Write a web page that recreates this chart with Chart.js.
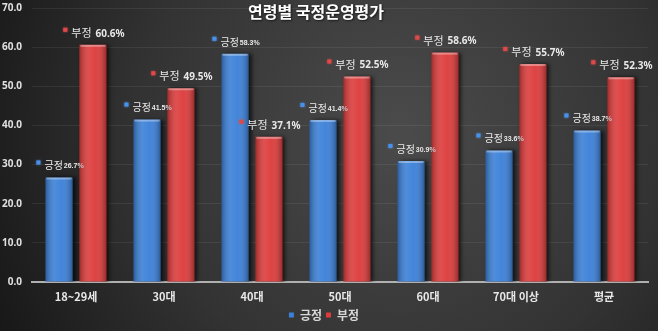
<!DOCTYPE html>
<html>
<head>
<meta charset="utf-8">
<script src="https://cdn.jsdelivr.net/npm/chart.js@4"></script>
<style>
  html, body { margin: 0; padding: 0; background: #2a2a2a; }
  #wrap { width: 658px; height: 331px; position: relative; }
</style>
</head>
<body>
<div id="wrap"><canvas id="myChart" width="658" height="331"></canvas></div>
<script>
const ageGroups = ["18~29세", "30대", "40대", "50대", "60대", "70대 이상", "평균"];
const positive = [26.7, 41.5, 58.3, 41.4, 30.9, 33.6, 38.7]; // 긍정
const negative = [60.6, 49.5, 37.1, 52.5, 58.6, 55.7, 52.3]; // 부정
const yTicks = [0, 10, 20, 30, 40, 50, 60, 70];
const chartTitle = "연령별 국정운영평가";

const KR = '"Noto Sans CJK KR", "Noto Sans", sans-serif';

// dark radial backdrop behind everything
const backdrop = {
  id: "backdrop",
  beforeDraw(chart) {
    const { ctx, width, height } = chart;
    const g = ctx.createRadialGradient(400, 130, 10, 400, 130, 460);
    g.addColorStop(0, "#4a4a4a");
    g.addColorStop(0.55, "#333333");
    g.addColorStop(1, "#161616");
    ctx.save();
    ctx.fillStyle = g;
    ctx.fillRect(0, 0, width, height);
    ctx.restore();
  },
};

// soft drop shadow under the bars
const barShadow = {
  id: "barShadow",
  beforeDatasetDraw(chart) {
    const ctx = chart.ctx;
    ctx.save();
    ctx.shadowColor = "rgba(0,0,0,0.65)";
    ctx.shadowBlur = 4;
    ctx.shadowOffsetX = 3;
    ctx.shadowOffsetY = 0;
  },
  afterDatasetDraw(chart) {
    chart.ctx.restore();
  },
};

// cylinder shading + value labels above every bar
const barDecor = {
  id: "barDecor",
  afterDatasetsDraw(chart) {
    const ctx = chart.ctx;
    chart.data.datasets.forEach((ds, di) => {
      const meta = chart.getDatasetMeta(di);
      meta.data.forEach((bar, i) => {
        const left = bar.x - bar.width / 2;
        const top = bar.y;
        const h = bar.base - bar.y;
        const g = ctx.createLinearGradient(left, 0, left + bar.width, 0);
        g.addColorStop(0, "rgba(0,0,0,0.28)");
        g.addColorStop(0.35, "rgba(255,255,255,0.10)");
        g.addColorStop(0.6, "rgba(255,255,255,0.04)");
        g.addColorStop(1, "rgba(0,0,0,0.30)");
        ctx.save();
        ctx.fillStyle = g;
        ctx.fillRect(left, top, bar.width, h);
        ctx.fillStyle = "rgba(255,255,255,0.35)";
        ctx.fillRect(left + 1, top, bar.width - 2, 2);

        // label: marker + name + value
        const val = ds.data[i];
        const name = ds.label;
        const num = val.toFixed(1) + "%";
        const nameFont = (di === 0 ? "10px " : "11px ") + KR;
        const numFont = di === 0
          ? 'bold 7px "Liberation Sans Narrow", "Liberation Sans", sans-serif'
          : 'bold 10px "Noto Sans", sans-serif';
        ctx.font = nameFont;
        const wName = ctx.measureText(name).width;
        const gap = di === 0 ? 1 : 4;
        ctx.font = numFont;
        const wNum = ctx.measureText(num).width;
        const total = 4 + 4 + wName + gap + wNum;
        let x = bar.x + 1 - total / 2;
        const y = top - 12;
        ctx.fillStyle = ds.markerColor;
        ctx.shadowColor = ds.markerColor;
        ctx.shadowBlur = 2;
        ctx.fillRect(x, y - 5, 4, 4);
        ctx.shadowBlur = 0;
        x += 8;
        ctx.textBaseline = "middle";
        ctx.textAlign = "left";
        ctx.fillStyle = "#e8e8e8";
        ctx.font = nameFont;
        ctx.fillText(name, x, y);
        x += wName + gap;
        ctx.font = numFont;
        ctx.fillText(num, x, y + 1);
        ctx.restore();
      });
    });
  },
  afterDraw(chart) {
    const ctx = chart.ctx;
    ctx.save();
    ctx.font = "bold 16px " + KR;
    ctx.textAlign = "center";
    ctx.textBaseline = "middle";
    ctx.shadowColor = "rgba(0,0,0,0.6)";
    ctx.shadowBlur = 2;
    ctx.shadowOffsetX = 1;
    ctx.shadowOffsetY = 1;
    ctx.fillStyle = "#ffffff";
    ctx.fillText(chartTitle, 316, 12);
    ctx.restore();
  },
};

new Chart(document.getElementById("myChart"), {
  type: "bar",
  data: {
    labels: ageGroups,
    datasets: [
      {
        label: "긍정",
        data: positive,
        backgroundColor: "#3b80d8",
        markerColor: "#4a90e8",
      },
      {
        label: "부정",
        data: negative,
        backgroundColor: "#dc3b3b",
        markerColor: "#e04848",
      },
    ],
  },
  options: {
    responsive: false,
    animation: false,
    devicePixelRatio: 1,
    categoryPercentage: 0.77,
    barPercentage: 0.8,
    layout: { autoPadding: false, padding: { top: 8, right: 10, left: 0, bottom: 0 } },
    plugins: {
      title: { display: false },
      tooltip: { enabled: false },
      legend: {
        position: "bottom",
        labels: {
          usePointStyle: true,
          pointStyle: "rect",
          boxWidth: 5,
          boxHeight: 5,
          padding: 4,
          color: "#d8d8d8",
          font: { family: KR, size: 12, weight: "bold" },
        },
      },
    },
    scales: {
      x: {
        grid: { display: false, drawTicks: false },
        border: { color: "#b0b0b0", width: 2 },
        ticks: {
          color: "#e8e8e8",
          padding: 8,
          font: { family: KR, size: 11, weight: "bold" },
        },
        afterFit(scale) {
          scale.height = 23;
          scale.paddingLeft = 0;
          scale.paddingRight = 0;
        },
      },
      y: {
        min: 0,
        max: 70,
        afterBuildTicks(scale) { scale.ticks = yTicks.map(v => ({ value: v })); },
        grid: { color: "rgba(255,255,255,0.07)", drawTicks: false },
        border: { display: false },
        ticks: {
          color: "#e0e0e0",
          padding: 10,
          font: { family: '"Noto Sans", sans-serif', size: 10, weight: "bold" },
          callback: (v) => Number(v).toFixed(1),
        },
        afterFit(scale) {
          scale.width = 32;
          scale.paddingTop = 0;
          scale.paddingBottom = 0;
        },
      },
    },
  },
  plugins: [backdrop, barShadow, barDecor],
});
</script>
</body>
</html>
